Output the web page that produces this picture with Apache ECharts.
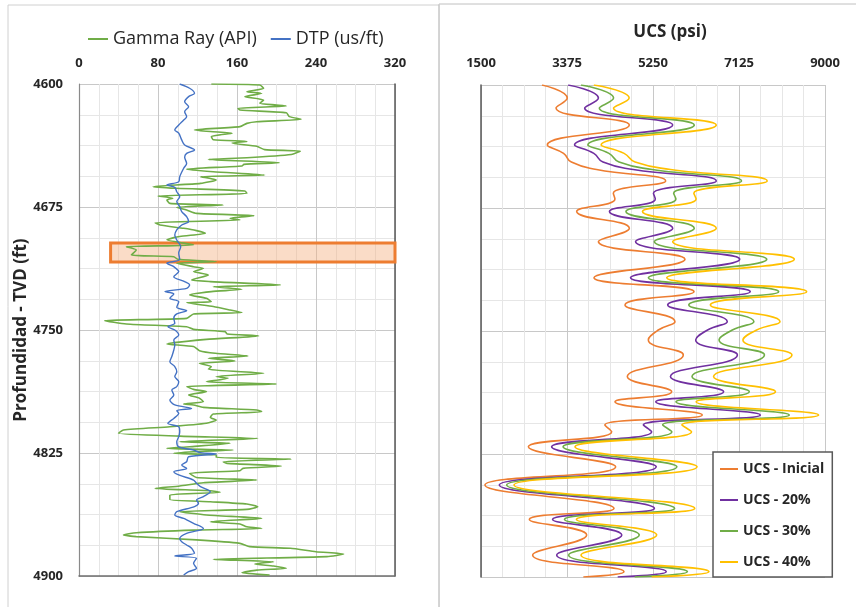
<!DOCTYPE html>
<html>
<head>
<meta charset="utf-8">
<title>Registro y UCS</title>
<script src="https://cdn.jsdelivr.net/npm/echarts@6.0.0/dist/echarts.min.js"></script>
<style>
  html, body { margin: 0; padding: 0; background: #fff; }
  #chart { width: 856px; height: 607px; }
</style>
</head>
<body>
<div id="chart"></div>
<script>
// Gamma Ray (API) vs profundidad (ft)
const gammaDepth = [4600.0, 4600.6, 4602.6, 4604.7, 4605.7, 4607.7, 4609.8, 4611.8, 4612.8, 4613.4, 4614.8, 4615.9, 4617.5, 4619.9, 4621.5, 4623.0, 4624.0, 4626.0, 4628.0, 4629.0, 4630.0, 4632.0, 4634.0, 4635.0, 4636.0, 4638.0, 4640.0, 4641.0, 4643.0, 4645.0, 4646.0, 4648.0, 4649.0, 4650.0, 4652.0, 4653.5, 4655.5, 4656.5, 4658.5, 4660.6, 4662.6, 4663.6, 4665.2, 4666.7, 4668.3, 4669.7, 4670.7, 4672.8, 4673.8, 4675.2, 4676.8, 4678.9, 4680.3, 4681.9, 4682.9, 4684.6, 4686.0, 4688.0, 4689.4, 4691.0, 4693.0, 4695.0, 4698.1, 4699.2, 4701.2, 4704.2, 4705.3, 4706.9, 4708.3, 4709.3, 4711.4, 4712.4, 4714.4, 4716.4, 4719.5, 4720.5, 4722.5, 4723.6, 4725.2, 4726.6, 4728.6, 4730.7, 4732.7, 4733.3, 4735.7, 4737.8, 4739.4, 4740.2, 4742.9, 4744.3, 4746.3, 4748.0, 4749.6, 4751.0, 4752.4, 4753.6, 4755.7, 4758.5, 4760.1, 4762.6, 4764.2, 4765.8, 4767.3, 4768.9, 4770.3, 4772.3, 4774.0, 4776.4, 4778.4, 4779.4, 4781.5, 4782.9, 4784.5, 4786.2, 4787.6, 4789.6, 4791.6, 4793.7, 4795.1, 4795.7, 4797.2, 4798.8, 4799.8, 4801.2, 4803.3, 4804.9, 4806.9, 4809.0, 4811.0, 4813.0, 4814.7, 4816.1, 4818.1, 4819.1, 4821.2, 4822.2, 4823.2, 4824.2, 4825.2, 4826.2, 4827.7, 4828.7, 4830.3, 4831.3, 4833.0, 4834.4, 4835.8, 4837.4, 4839.9, 4841.5, 4843.1, 4845.1, 4846.6, 4848.0, 4849.0, 4850.6, 4853.3, 4854.7, 4856.1, 4857.7, 4859.4, 4860.8, 4862.8, 4864.9, 4866.9, 4868.3, 4870.0, 4871.0, 4872.0, 4873.6, 4875.0, 4876.0, 4878.0, 4880.1, 4882.1, 4883.1, 4885.2, 4886.6, 4888.2, 4889.9, 4891.3, 4892.7, 4893.9, 4895.3, 4896.4, 4898.0, 4899.4]
const gammaApi = [134, 183, 187, 170, 185, 168, 187, 183, 200, 210, 161, 163, 210, 213, 225, 180, 170, 163, 117, 133, 155, 134, 136, 170, 155, 180, 188, 224, 215, 170, 131, 203, 167, 165, 109, 136, 188, 123, 139, 123, 75, 99, 168, 170, 80, 95, 89, 92, 146, 99, 109, 119, 177, 153, 163, 77, 82, 106, 119, 128, 102, 89, 116, 48, 58, 53, 96, 100, 139, 99, 116, 126, 116, 131, 114, 133, 204, 136, 165, 134, 112, 129, 134, 109, 136, 153, 165, 116, 109, 26, 48, 109, 116, 148, 150, 182, 129, 89, 116, 122, 138, 171, 131, 158, 122, 134, 131, 187, 139, 151, 129, 200, 109, 116, 129, 111, 122, 126, 106, 116, 126, 180, 185, 136, 133, 139, 129, 92, 45, 40, 102, 181, 102, 153, 112, 89, 156, 116, 96, 139, 139, 215, 146, 150, 205, 166, 163, 112, 119, 180, 126, 102, 77, 133, 143, 92, 92, 133, 170, 181, 170, 102, 129, 185, 133, 163, 170, 185, 116, 58, 45, 58, 119, 163, 173, 214, 240, 268, 251, 136, 197, 178, 197, 210, 180, 165, 193]

// DTP (us/ft) vs profundidad (ft)
const dtpDepth = [4600.0, 4602.6, 4605.7, 4607.7, 4610.8, 4613.8, 4616.9, 4619.9, 4622.0, 4625.0, 4628.0, 4630.0, 4634.1, 4637.2, 4640.2, 4642.3, 4644.7, 4648.4, 4651.4, 4656.5, 4659.6, 4661.6, 4663.0, 4665.7, 4668.7, 4671.7, 4674.8, 4677.8, 4680.9, 4683.9, 4686.0, 4689.0, 4692.1, 4695.1, 4699.2, 4703.0, 4707.0, 4709.3, 4711.4, 4714.4, 4717.5, 4720.5, 4722.5, 4724.6, 4726.6, 4728.0, 4730.7, 4732.7, 4736.2, 4738.2, 4740.2, 4742.9, 4745.9, 4748.0, 4750.0, 4753.0, 4756.1, 4759.1, 4762.2, 4766.2, 4769.3, 4772.3, 4775.4, 4778.4, 4781.5, 4784.5, 4786.6, 4789.6, 4792.7, 4795.7, 4797.8, 4799.2, 4800.8, 4803.9, 4806.9, 4809.0, 4812.0, 4815.1, 4818.1, 4821.2, 4823.2, 4824.8, 4825.6, 4827.3, 4830.3, 4832.3, 4834.4, 4836.4, 4838.4, 4841.5, 4843.5, 4845.5, 4848.6, 4851.6, 4853.7, 4855.7, 4857.7, 4860.8, 4862.8, 4864.9, 4867.9, 4871.0, 4874.0, 4877.1, 4879.1, 4881.1, 4883.1, 4886.2, 4887.8, 4889.2, 4892.3, 4895.3, 4897.4, 4899.4]
const dtpValue = [102, 112, 117, 111, 107, 111, 107, 109, 106, 101, 97, 101, 104, 107, 117, 109, 107, 109, 106, 102, 101, 89, 97, 99, 102, 99, 102, 104, 109, 111, 104, 99, 97, 99, 103, 101, 102, 89, 96, 101, 96, 107, 112, 109, 87, 96, 92, 101, 99, 109, 99, 96, 97, 90, 97, 101, 96, 97, 96, 94, 92, 97, 99, 97, 101, 99, 94, 96, 92, 97, 114, 99, 101, 96, 90, 101, 102, 101, 99, 101, 116, 123, 139, 111, 109, 104, 109, 96, 101, 116, 119, 123, 133, 126, 119, 121, 117, 99, 97, 106, 116, 126, 109, 102, 104, 109, 114, 117, 97, 119, 116, 119, 111, 106]

// intervalo resaltado
const zoneDepth = [4697, 4708.5]
const zoneApi = [32, 320]

// UCS (psi) vs profundidad (ft)
const ucsDepth = [4600, 4608, 4614, 4624.4, 4636.6, 4641.7, 4647, 4651.5, 4658.5, 4666, 4669.5, 4677.2, 4687.4, 4695.5, 4706.3, 4717.5, 4726, 4734.1, 4744.3, 4749.4, 4755.5, 4764.6, 4777.8, 4787, 4793.1, 4801.2, 4807.3, 4811.4, 4820.6, 4832.8, 4843.9, 4858.2, 4864.9, 4874.4, 4886.6, 4896.8, 4900]
const ucsInicial = [2830, 3380, 3135, 4734, 2946, 3300, 3470, 4020, 5526, 4385, 4420, 3586, 4734, 4060, 5947, 3963, 6144, 4639, 5729, 5366, 5148, 5911, 4690, 5657, 4421, 6325, 4200, 4350, 2532, 4436, 1587, 4400, 2554, 3804, 2626, 4618, 3731]
const ucs20 = [3400, 4060, 3760, 5680, 3540, 3960, 4160, 4820, 6630, 5260, 5300, 4300, 5680, 4870, 7140, 4760, 7370, 5570, 6870, 6440, 6180, 7090, 5630, 6790, 5310, 7590, 5040, 5220, 3040, 5320, 1900, 5280, 3060, 4570, 3150, 5540, 4480]
const ucs30 = [3680, 4390, 4080, 6150, 3830, 4290, 4510, 5230, 7180, 5700, 5750, 4660, 6150, 5280, 7730, 5150, 7990, 6030, 7450, 6980, 6690, 7680, 6100, 7350, 5750, 8220, 5460, 5660, 3290, 5770, 2060, 5720, 3320, 4950, 3410, 6000, 4850]
const ucs40 = [3960, 4730, 4390, 6630, 4120, 4620, 4860, 5630, 7740, 6140, 6190, 5020, 6630, 5680, 8330, 5550, 8600, 6500, 8020, 7510, 7210, 8280, 6570, 7920, 6190, 8860, 5880, 6090, 3550, 6210, 2220, 6160, 3580, 5330, 3680, 6470, 5220]

const FONT = "'Open Sans', 'Liberation Sans', sans-serif"
const TXT = "#262626"

const pairs = (vals, depths) => vals.map((v, i) => [v, depths[i]])

const myChart = echarts.init(document.getElementById("chart"), null, { renderer: "canvas" })

const gridLine = { lineStyle: { color: "#c8c8c8", width: 1 } }
const minorLine = { show: true, lineStyle: { color: "#e6e6e6", width: 1 } }
const tickLabel = {
  color: TXT, fontFamily: FONT, fontWeight: "bold", fontSize: 13,
  formatter: (v) => String(v)
}

function ucsSeries(name, data, color) {
  return {
    name: name,
    type: "line",
    xAxisIndex: 2,
    yAxisIndex: 2,
    data: pairs(data, ucsDepth),
    showSymbol: false,
    smooth: 0.5,
    lineStyle: { color: color, width: 1.6 },
    itemStyle: { color: color },
    emphasis: { disabled: true }
  }
}

const option = {
  animation: false,
  textStyle: { fontFamily: FONT },
  graphic: [
    { type: "rect", shape: { x: 8, y: 5, width: 431, height: 610 }, style: { fill: null, stroke: "#d0d0d0", lineWidth: 1 }, silent: true },
    { type: "rect", shape: { x: 439, y: 4, width: 430, height: 610 }, style: { fill: null, stroke: "#c0c0c0", lineWidth: 1 }, silent: true }
  ],
  title: {
    text: "UCS (psi)",
    left: 670,
    top: 24,
    padding: 0,
    textAlign: "center",
    textStyle: { color: TXT, fontFamily: FONT, fontWeight: "bold", fontSize: 17 }
  },
  legend: [
    {
      data: ["Gamma Ray (API)", "DTP (us/ft)"],
      left: 88,
      top: 30,
      padding: 0,
      icon: "rect",
      itemWidth: 20,
      itemHeight: 2,
      itemGap: 14,
      textStyle: { color: TXT, fontFamily: FONT, fontSize: 18 }
    },
    {
      data: ["UCS - Inicial", "UCS - 20%", "UCS - 30%", "UCS - 40%"],
      orient: "vertical",
      left: 713,
      top: 452,
      width: 112,
      padding: [10, 8, 8, 7],
      icon: "rect",
      itemWidth: 18,
      itemHeight: 2,
      itemGap: 17,
      backgroundColor: "#fff",
      borderColor: "#595959",
      borderWidth: 1.5,
      textStyle: { color: TXT, fontFamily: FONT, fontWeight: "bold", fontSize: 14 }
    }
  ],
  grid: [
    { left: 79, top: 84, width: 316, height: 492 },
    { left: 481, top: 85, width: 344, height: 492 }
  ],
  xAxis: [
    {
      gridIndex: 0, type: "value", position: "top", min: 0, max: 320, interval: 80,
      axisLine: { show: false }, axisTick: { show: false },
      axisLabel: Object.assign({ margin: 14 }, tickLabel),
      splitLine: gridLine, minorTick: { show: false, splitNumber: 4 }, minorSplitLine: minorLine
    },
    {
      gridIndex: 0, type: "value", position: "bottom", min: 0, max: 320,
      axisLine: { show: true, onZero: false, lineStyle: { color: "#6f6f6f", width: 1.5 } },
      axisTick: { show: false }, axisLabel: { show: false }, splitLine: { show: false }
    },
    {
      gridIndex: 1, type: "value", position: "top", min: 1500, max: 9000, interval: 1875,
      axisLine: { show: false }, axisTick: { show: false },
      axisLabel: Object.assign({ margin: 15 }, tickLabel),
      splitLine: gridLine, minorTick: { show: false, splitNumber: 4 }, minorSplitLine: minorLine
    }
  ],
  yAxis: [
    {
      gridIndex: 0, type: "value", inverse: true, min: 4600, max: 4900, interval: 75,
      name: "Profundidad - TVD (ft)", nameLocation: "middle", nameGap: 46, nameRotate: 90,
      nameTextStyle: { color: TXT, fontFamily: FONT, fontWeight: "bold", fontSize: 17 },
      axisLine: { show: true, onZero: false, lineStyle: { color: "#8a8a8a", width: 1.2 } },
      axisTick: { show: false },
      axisLabel: Object.assign({ margin: 16 }, tickLabel),
      splitLine: gridLine, minorTick: { show: false, splitNumber: 4 }, minorSplitLine: minorLine
    },
    {
      gridIndex: 0, type: "value", position: "right", inverse: true, min: 4600, max: 4900,
      axisLine: { show: true, onZero: false, lineStyle: { color: "#595959", width: 1.5 } },
      axisTick: { show: false }, axisLabel: { show: false }, splitLine: { show: false }
    },
    {
      gridIndex: 1, type: "value", inverse: true, min: 4600, max: 4900, interval: 75,
      axisLine: { show: true, onZero: false, lineStyle: { color: "#595959", width: 1.5 } },
      axisTick: { show: false }, axisLabel: { show: false },
      splitLine: gridLine, minorTick: { show: false, splitNumber: 4 }, minorSplitLine: minorLine
    }
  ],
  series: [
    {
      name: "Gamma Ray (API)",
      type: "line",
      xAxisIndex: 0,
      yAxisIndex: 0,
      data: pairs(gammaApi, gammaDepth),
      showSymbol: false,
      smooth: 0.2,
      lineStyle: { color: "#70AD47", width: 1.6 },
      itemStyle: { color: "#70AD47" },
      emphasis: { disabled: true },
      markArea: {
        silent: true,
        itemStyle: { color: "rgba(244,177,131,0.45)", borderColor: "#ED7D31", borderWidth: 3 },
        data: [[{ coord: [zoneApi[0], zoneDepth[0]] }, { coord: [zoneApi[1], zoneDepth[1]] }]]
      }
    },
    {
      name: "DTP (us/ft)",
      type: "line",
      xAxisIndex: 0,
      yAxisIndex: 0,
      data: pairs(dtpValue, dtpDepth),
      showSymbol: false,
      smooth: 0.3,
      lineStyle: { color: "#4472C4", width: 1.4 },
      itemStyle: { color: "#4472C4" },
      emphasis: { disabled: true }
    },
    ucsSeries("UCS - Inicial", ucsInicial, "#ED7D31"),
    ucsSeries("UCS - 20%", ucs20, "#7030A0"),
    ucsSeries("UCS - 30%", ucs30, "#70AD47"),
    ucsSeries("UCS - 40%", ucs40, "#FFC000")
  ]
}

myChart.setOption(option)
</script>
</body>
</html>
